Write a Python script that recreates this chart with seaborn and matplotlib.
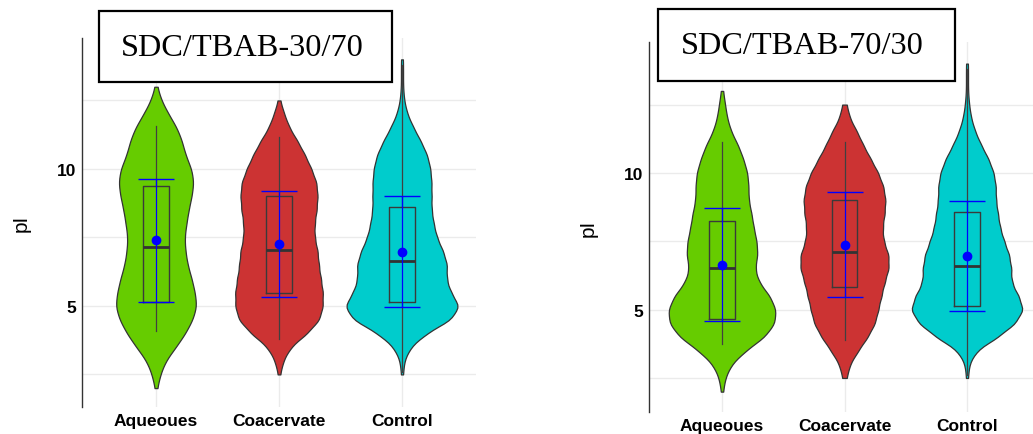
import numpy as np
import pandas as pd
import matplotlib
matplotlib.use("Agg")
import matplotlib.pyplot as plt
import seaborn as sns
from matplotlib.patches import Rectangle

# ---- data -------------------------------------------------------------
categories = ["Aqueoues", "Coacervate", "Control"]
colors = ["#66CC00", "#CC3333", "#00CCCC"]

# pI bin centres shared by all groups
pi_bins = [2.0, 2.5, 3.0, 3.5, 4.0, 4.5, 5.0, 5.5, 6.0, 6.5, 7.0, 7.5, 8.0,
           8.5, 9.0, 9.5, 10.0, 10.5, 11.0, 11.5, 12.0, 12.5, 13.0, 13.5, 14.0]

# protein counts per pI bin, SDC/TBAB-30/70
aq_30_70 = [1, 4, 9, 19, 28, 35, 39, 37, 34, 30, 28, 27, 29, 31, 34, 36, 34,
            28, 25, 20, 12, 5, 1, 0, 0]
coa_30_70 = [0, 1, 4, 11, 27, 39, 42, 42, 40, 38, 37, 34, 34, 36, 37, 36, 31,
             25, 18, 10, 5, 1, 0, 0, 0]
ctl_30_70 = [0, 1, 2, 8, 23, 47, 55, 46, 42, 43, 39, 33, 30, 28, 28, 28, 27,
             24, 18, 11, 5, 2, 1, 1, 1]

# protein counts per pI bin, SDC/TBAB-70/30
aq_70_30 = [1, 3, 9, 23, 42, 52, 53, 47, 36, 32, 35, 34, 31, 29, 26, 26, 25,
            21, 16, 9, 5, 3, 1, 0, 0]
coa_70_30 = [0, 2, 5, 13, 22, 29, 32, 35, 38, 42, 42, 37, 36, 38, 39, 37, 32,
             25, 18, 12, 5, 2, 0, 0, 0]
ctl_70_30 = [0, 1, 2, 9, 30, 47, 55, 50, 43, 43, 41, 36, 32, 30, 28, 28, 26,
             21, 14, 8, 4, 2, 1, 1, 1]

# box-plot summaries (Aqueoues, Coacervate, Control)
q1_30_70 = [5.15, 5.47, 5.15]
med_30_70 = [7.15, 7.04, 6.64]
q3_30_70 = [9.38, 9.01, 8.61]
wlo_30_70 = [4.09, 3.80, 2.60]
whi_30_70 = [11.57, 11.17, 13.80]
mean_30_70 = [7.40, 7.26, 6.98]
sd_30_70 = [2.24, 1.94, 2.02]

q1_70_30 = [4.66, 5.81, 5.12]
med_70_30 = [6.51, 7.12, 6.59]
q3_70_30 = [8.26, 9.00, 8.58]
wlo_70_30 = [3.74, 3.90, 2.60]
whi_70_30 = [11.12, 11.15, 13.80]
mean_70_30 = [6.65, 7.38, 6.95]
sd_70_30 = [2.07, 1.91, 2.01]

titles = ["SDC/TBAB-30/70", "SDC/TBAB-70/30"]

# ---- figure -----------------------------------------------------------
W, H = 1033, 435
fig = plt.figure(figsize=(W / 100, H / 100), dpi=100)
sans = ["Liberation Sans", "DejaVu Sans"]


def frac_box(x0, y0_top, x1, y1_bottom):
    """pixel box (top-left origin) -> figure fraction [l, b, w, h]"""
    return [x0 / W, 1 - y1_bottom / H, (x1 - x0) / W, (y1_bottom - y0_top) / H]


def draw_panel(ax, counts, q1, med, q3, wlo, whi, mean, sd, ylim):
    groups = np.concatenate([np.repeat(c, sum(n)) for c, n in zip(categories, counts)])
    values = np.concatenate([np.repeat(pi_bins, n) for n in counts])
    df = pd.DataFrame({"group": groups, "pI": values})

    sns.violinplot(data=df, x="group", y="pI", hue="group", order=categories,
                   hue_order=categories, palette=colors, inner=None, cut=0,
                   bw_method=0.125, density_norm="area", common_norm=True,
                   width=0.9, linewidth=0.9, linecolor="#333333",
                   saturation=1, legend=False, ax=ax)

    stats = [dict(med=m, q1=a, q3=b, whislo=lo, whishi=hi, label=c)
             for c, m, a, b, lo, hi in zip(categories, med, q1, q3, wlo, whi)]
    ax.bxp(stats, positions=[0, 1, 2], widths=0.21, showfliers=False,
           showcaps=False, manage_ticks=False,
           boxprops=dict(color="#3a3a3a", lw=1.0),
           medianprops=dict(color="#333333", lw=2.0),
           whiskerprops=dict(color="#404040", lw=0.9),
           zorder=3)

    ax.errorbar([0, 1, 2], mean, yerr=sd, fmt="none", ecolor="#0000FF",
                elinewidth=0.9, capsize=13, capthick=1.0, zorder=4)
    ax.plot([0, 1, 2], mean, "o", color="#0000FF", ms=6, zorder=5)

    ax.set_xlim(-0.6, 2.6)
    ax.set_ylim(*ylim)
    ax.set_yticks([5, 10])
    ax.set_yticks([2.5, 7.5, 12.5], minor=True)
    ax.set_xticks([0, 1, 2])
    ax.set_xticklabels(categories)
    ax.grid(True, which="both", color="#EBEBEB", lw=1.0)
    ax.set_axisbelow(True)
    for s in ["top", "right", "bottom"]:
        ax.spines[s].set_visible(False)
    ax.spines["left"].set_color("#333333")
    ax.spines["left"].set_linewidth(1.0)
    ax.tick_params(axis="both", which="both", length=0)
    ax.tick_params(axis="x", pad=4)
    ax.tick_params(axis="y", pad=4)
    for lab in ax.get_xticklabels() + ax.get_yticklabels():
        lab.set_fontweight("bold")
        lab.set_fontsize(12.5)
        lab.set_family(sans)
        lab.set_color("black")
    ax.set_xlabel("")
    ax.set_ylabel("pI", fontsize=15, family=sans, color="black")
    ax.yaxis.set_label_coords(-0.13, 0.5)


ax1 = fig.add_axes(frac_box(82.2, 39, 475.8, 408))
draw_panel(ax1, [aq_30_70, coa_30_70, ctl_30_70], q1_30_70, med_30_70,
           q3_30_70, wlo_30_70, whi_30_70, mean_30_70, sd_30_70, (1.31, 14.78))

ax2 = fig.add_axes(frac_box(648.5, 43, 1040.5, 413))
draw_panel(ax2, [aq_70_30, coa_70_30, ctl_70_30], q1_70_30, med_70_30,
           q3_70_30, wlo_70_30, whi_70_30, mean_70_30, sd_70_30, (1.255, 14.79))

# framed panel titles
for (x0, y0, x1, y1, tx, ty), title in zip(
        [(99, 12, 392, 83, 242.5, 56), (658, 10, 955, 82, 802, 53.5)], titles):
    fig.add_artist(Rectangle((x0 / W, 1 - y1 / H), (x1 - x0) / W, (y1 - y0) / H,
                             transform=fig.transFigure, facecolor="white",
                             edgecolor="black", lw=1.6, zorder=5))
    fig.text(tx / W, 1 - ty / H, title, ha="center", va="baseline",
             fontsize=23.3, family=["Liberation Serif", "DejaVu Serif"],
             color="black", zorder=6)

fig.savefig("out.png", dpi=100)
